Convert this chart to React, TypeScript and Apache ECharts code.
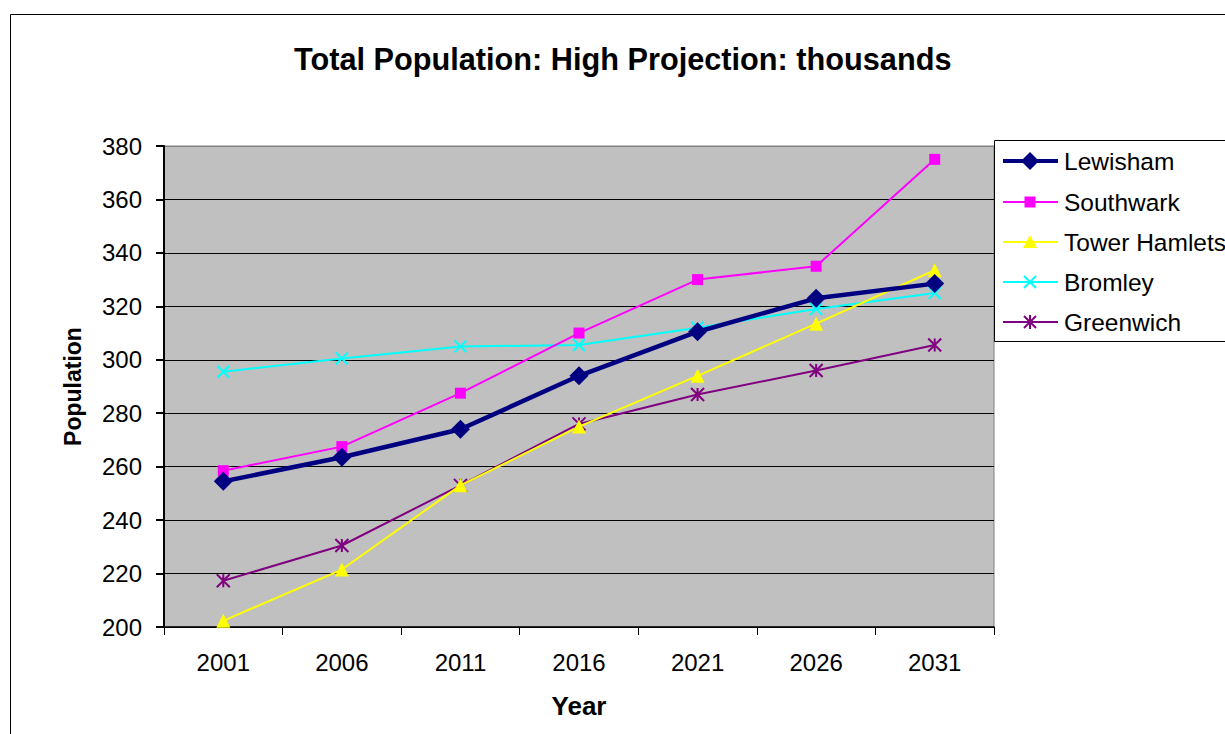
import React, { useEffect, useRef } from "react";
import * as echarts from "echarts";

const years = ["2001", "2006", "2011", "2016", "2021", "2026", "2031"];
const lewisham = [254.5, 263.5, 274, 294, 310.5, 323, 328.5];
const southwark = [258.5, 267.5, 287.5, 310, 330, 335, 375];
const towerHamlets = [202.3, 221.5, 253, 275, 294, 313.5, 333.5];
const bromley = [295.5, 300.5, 305, 305.5, 312, 319, 325];
const greenwich = [217.3, 230.5, 253, 276, 287, 296, 305.5];
const seriesNames = ["Lewisham", "Southwark", "Tower Hamlets", "Bromley", "Greenwich"];

const FONT = "'Liberation Sans', Arial, sans-serif";
const X_PATH = "path://M0,0 L10,10 M10,0 L0,10";
const STAR_PATH = "path://M5,0 L5,10 M0,0 L10,10 M10,0 L0,10";

export default function App() {
  const ref = useRef<HTMLDivElement>(null);
  useEffect(() => {
    const chart = echarts.init(ref.current!, null, { renderer: "svg" });

    const legendX = 994;
    const legendY = 140;
    const rowY = [161, 202, 242, 282, 322];
    const lx1 = 1003, lx2 = 1058, mx = 1030, tx = 1064;
    const legendGraphics: any[] = [
      { type: "rect", shape: { x: legendX + 0.5, y: legendY + 0.5, width: 260, height: 201 }, style: { fill: "#fff", stroke: "#000", lineWidth: 1 }, z: 10 },
    ];
    const colors = ["#000080", "#FF00FF", "#FFFF00", "#00FFFF", "#800080"];
    const widths = [4, 2, 2, 2, 2];
    rowY.forEach((y, i) => {
      legendGraphics.push({ type: "line", shape: { x1: lx1, y1: y, x2: lx2, y2: y }, style: { stroke: colors[i], lineWidth: widths[i] }, z: 11 });
      legendGraphics.push({ type: "text", x: tx, y: y, style: { text: seriesNames[i], font: `24.5px ${FONT}`, fill: "#000", verticalAlign: "middle", textAlign: "left" }, z: 11 });
    });
    legendGraphics.push({ type: "polygon", shape: { points: [[mx, rowY[0] - 9], [mx + 9, rowY[0]], [mx, rowY[0] + 9], [mx - 9, rowY[0]]] }, style: { fill: colors[0] }, z: 12 });
    legendGraphics.push({ type: "rect", shape: { x: mx - 5.5, y: rowY[1] - 5.5, width: 11, height: 11 }, style: { fill: colors[1] }, z: 12 });
    legendGraphics.push({ type: "polygon", shape: { points: [[mx, rowY[2] - 7], [mx + 7, rowY[2] + 6], [mx - 7, rowY[2] + 6]] }, style: { fill: colors[2] }, z: 12 });
    legendGraphics.push({ type: "line", shape: { x1: mx - 6, y1: rowY[3] - 6, x2: mx + 6, y2: rowY[3] + 6 }, style: { stroke: colors[3], lineWidth: 2 }, z: 12 });
    legendGraphics.push({ type: "line", shape: { x1: mx + 6, y1: rowY[3] - 6, x2: mx - 6, y2: rowY[3] + 6 }, style: { stroke: colors[3], lineWidth: 2 }, z: 12 });
    legendGraphics.push({ type: "line", shape: { x1: mx - 6, y1: rowY[4] - 6, x2: mx + 6, y2: rowY[4] + 6 }, style: { stroke: colors[4], lineWidth: 2 }, z: 12 });
    legendGraphics.push({ type: "line", shape: { x1: mx + 6, y1: rowY[4] - 6, x2: mx - 6, y2: rowY[4] + 6 }, style: { stroke: colors[4], lineWidth: 2 }, z: 12 });
    legendGraphics.push({ type: "line", shape: { x1: mx, y1: rowY[4] - 7, x2: mx, y2: rowY[4] + 7 }, style: { stroke: colors[4], lineWidth: 2 }, z: 12 });

    const mk = (name: string, data: number[], color: string, width: number, symbol: string, size: number, stroked: boolean, z: number) => ({
      name,
      type: "line",
      data,
      z,
      symbol,
      symbolSize: size,
      showAllSymbol: true,
      lineStyle: { color, width },
      itemStyle: stroked
        ? { color: "none", borderColor: color, borderWidth: 2 }
        : { color, borderWidth: 0 },
      emphasis: { disabled: true },
    });

    chart.setOption({
      animation: false,
      backgroundColor: "#fff",
      title: {
        text: "Total Population: High Projection: thousands",
        left: 289,
        top: 39,
        textStyle: { fontFamily: FONT, fontSize: 30.7, fontWeight: "bold", color: "#000" },
      },
      grid: {
        left: 164,
        top: 146,
        width: 830,
        height: 481,
        show: true,
        backgroundColor: "#C0C0C0",
        borderColor: "#808080",
        borderWidth: 1,
      },
      xAxis: {
        type: "category",
        data: years,
        boundaryGap: true,
        name: "Year",
        nameLocation: "middle",
        nameGap: 66,
        nameTextStyle: { fontFamily: FONT, fontSize: 26, fontWeight: "bold", color: "#000" },
        axisLine: { lineStyle: { color: "#000", width: 1.5 } },
        axisTick: { show: true, length: 8, lineStyle: { color: "#000" } },
        axisLabel: { fontFamily: FONT, fontSize: 24, color: "#000", margin: 23 },
        splitLine: { show: false },
      },
      yAxis: {
        type: "value",
        min: 200,
        max: 380,
        interval: 20,
        name: "Population",
        nameLocation: "middle",
        nameGap: 80,
        nameRotate: 90,
        nameTextStyle: { fontFamily: FONT, fontSize: 23, fontWeight: "bold", color: "#000" },
        axisLine: { show: true, lineStyle: { color: "#000", width: 2 } },
        axisTick: { show: true, length: 8, lineStyle: { color: "#000", width: 2 } },
        axisLabel: { fontFamily: FONT, fontSize: 24, color: "#000", margin: 22 },
        splitLine: {
          show: true,
          lineStyle: { color: ["#000", "#000", "#000", "#000", "#000", "#000", "#000", "#000", "#000", "#808080"], width: 1 },
        },
      },
      graphic: [
        { type: "rect", shape: { x: 10.5, y: 14.5, width: 1300, height: 800 }, style: { fill: "none", stroke: "#000", lineWidth: 1 }, z: -10, silent: true },
        ...legendGraphics,
      ],
      series: [
        mk(seriesNames[4], greenwich, colors[4], 2, STAR_PATH, 13, true, 2),
        mk(seriesNames[3], bromley, colors[3], 2, X_PATH, 12, true, 3),
        mk(seriesNames[2], towerHamlets, colors[2], 2, "triangle", 14, false, 4),
        mk(seriesNames[1], southwark, colors[1], 2, "rect", 11, false, 5),
        mk(seriesNames[0], lewisham, colors[0], 4.5, "diamond", 19, false, 6),
      ],
    });
    return () => chart.dispose();
  }, []);
  return <div ref={ref} style={{ position: "fixed", left: 0, top: 0, width: 1225, height: 734 }} />;
}
